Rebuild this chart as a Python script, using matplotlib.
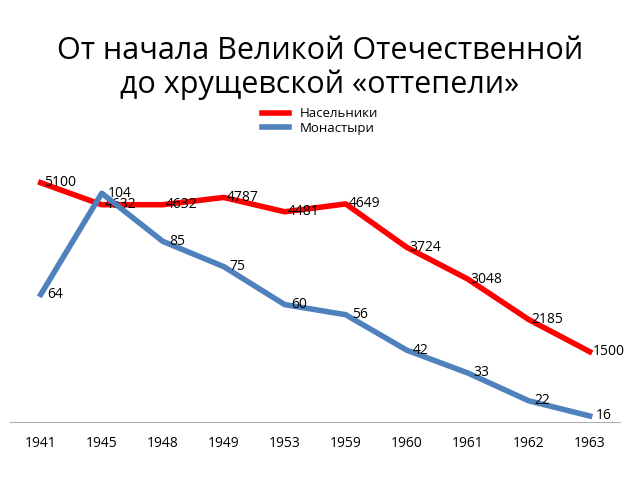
import matplotlib
matplotlib.use("Agg")
import matplotlib.pyplot as plt

years = ["1941","1945","1948","1949","1953","1959","1960","1961","1962","1963"]
residents = [5100,4632,4632,4787,4481,4649,3724,3048,2185,1500]
monasteries = [64,104,85,75,60,56,42,33,22,16]

plt.rcParams["font.family"] = "Open Sans"
fig = plt.figure(figsize=(6.4,4.84), dpi=100)
ax = fig.add_axes([0.016,0.128,0.953,0.603])
ax2 = ax.twinx()
x = range(len(years))
l1, = ax.plot(x, residents, color="#ff0000", lw=4, label="Насельники")
l2, = ax2.plot(x, monasteries, color="#4f81bd", lw=4, label="Монастыри")
ax.set_ylim(0, 6220)
ax2.set_ylim(13.6, 128.9)
ax.set_xlim(-0.5, 9.5)
for i, v in enumerate(residents):
    ax.text(i+0.05, v, str(v), fontsize=10, va="center", ha="left")
for i, v in enumerate(monasteries):
    ax2.text(i+0.1, v, str(v), fontsize=10, va="center", ha="left")
ax.set_xticks(list(x))
ax.set_xticklabels(years, fontsize=10)
ax.tick_params(axis="x", length=0, pad=10)
for a in (ax, ax2):
    a.set_yticks([])
    for s in ("top","left","right"):
        a.spines[s].set_visible(False)
ax.spines["bottom"].set_color("#b0b0b0")
ax2.spines["bottom"].set_visible(False)
fig.legend(handles=[l1,l2], loc="center", bbox_to_anchor=(0.5,0.75), frameon=False,
           fontsize=9.5, handlelength=2.0, labelspacing=0.1)
fig.text(0.5, 0.86, "От начала Великой Отечественной\nдо хрущевской «оттепели»",
         ha="center", va="center", fontsize=22, linespacing=1.15)
fig.savefig("out.png", dpi=100)
